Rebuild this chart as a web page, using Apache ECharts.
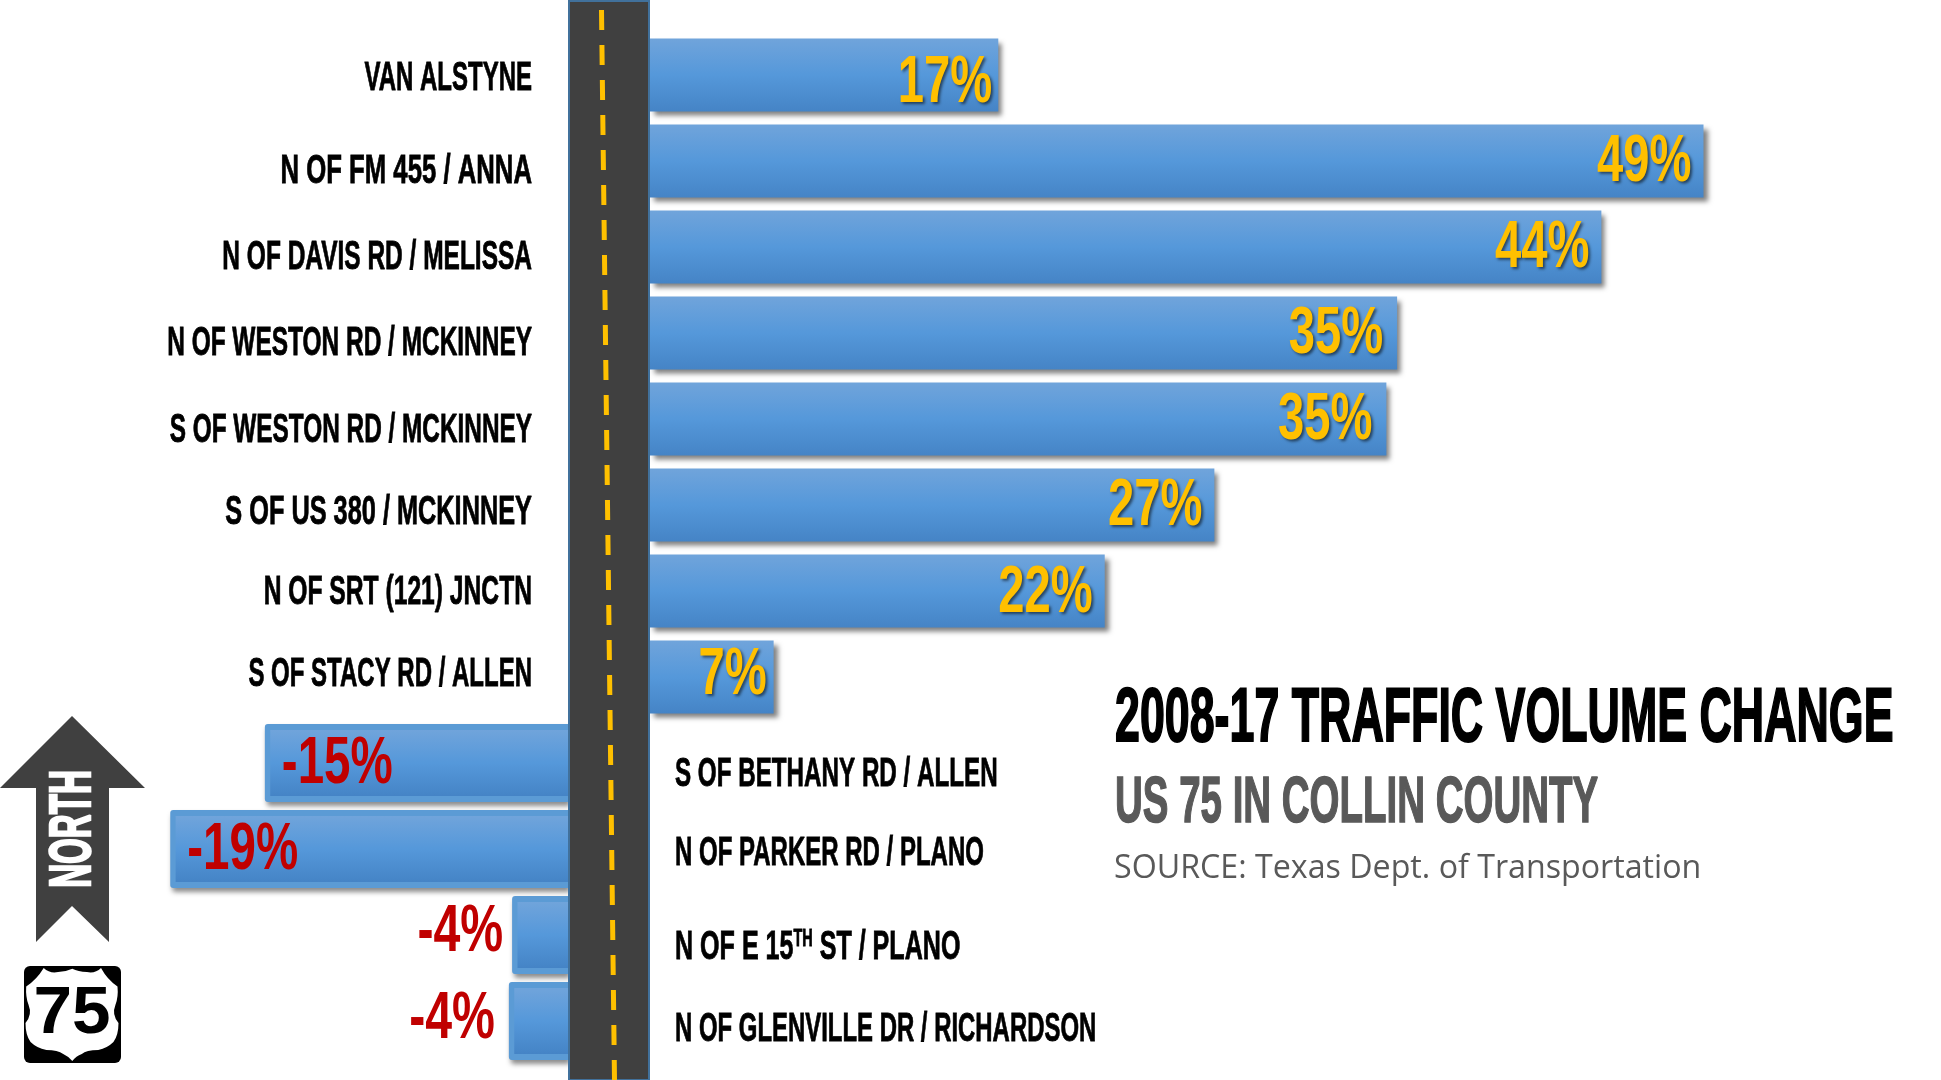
<!DOCTYPE html>
<html>
<head>
<meta charset="utf-8">
<title>US 75 traffic volume change</title>
<script src="https://cdn.jsdelivr.net/npm/echarts@6/dist/echarts.min.js"></script>
<style>
    html, body { margin: 0; padding: 0; background: #fff; }
    #main { width: 1941px; height: 1080px; }
</style>
</head>
<body>
<div id="main"></div>
<script>
// north to south along the road
var categories = [
    'VAN ALSTYNE', 'N OF FM 455 / ANNA', 'N OF DAVIS RD / MELISSA', 'N OF WESTON RD / MCKINNEY',
    'S OF WESTON RD / MCKINNEY', 'S OF US 380 / MCKINNEY', 'N OF SRT (121) JNCTN', 'S OF STACY RD / ALLEN',
    'S OF BETHANY RD / ALLEN', 'N OF PARKER RD / PLANO', 'N OF E 15TH ST / PLANO', 'N OF GLENVILLE DR / RICHARDSON'
];
// what is printed on each bar
var percentLabels = ['17%', '49%', '44%', '35%', '35%', '27%', '22%', '7%', '-15%', '-19%', '-4%', '-4%'];
var barLengths = [16.2, 49, 44.25, 34.75, 34.25, 26.25, 21.15, 5.75, -14.1, -18.5, -2.6, -2.75];
// small hand placed offsets of the texts against their bars
var nameNudge = [4, 11, 11, 11, 12, 8, 2, -2, 12, 5, 13, 9];
var nameSqueeze = [0.6, 0.643, 0.612, 0.611, 0.609, 0.633, 0.616, 0.6, 0.605, 0.6, 0.627, 0.598];
var percentNudge = [9, 2, 2, 2, 2, 2, 3, -1, 2, 2, -2, -1];
var percentInset = [6, 12, 12, 14, 14, 12, 12, 7, 17, 17, 9, 14];

var chart = echarts.init(document.getElementById('main'));

var NARROW = '"Liberation Sans Narrow", "Liberation Sans", sans-serif';
var SHIELD = 'M26.7 986.7 Q37 980 44 968.3 Q50 974 58.3 972.3 Q66 972 72.3 969 Q78 972 86.7 972.3 Q95 974 100.7 968.3 Q107 980 117 986.7 Q118 997 115 1005 Q111 1015 118 1023 Q118 1035 113 1042 Q107 1048 98 1050 Q86 1050 81.7 1054 Q76 1056 72.3 1061 Q68 1056 63.3 1054 Q58 1050 46.7 1050 Q37 1048 31 1042 Q26 1035 26 1023 Q33 1015 29 1005 Q26 997 26.7 986.7 Z';
var barFill = {
    type: 'linear', x: 0, y: 0, x2: 0, y2: 1,
    colorStops: [
        {offset: 0, color: '#70A4DB'},
        {offset: 0.5, color: '#5598DA'},
        {offset: 1, color: '#4584C6'}
    ]
};

var growth = barLengths.map(function (v) { return v > 0 ? v : null; });
var decline = barLengths.map(function (v) { return v < 0 ? v : null; });
var rows = categories.map(function (c, i) { return i; });
var growthRows = rows.filter(function (i) { return barLengths[i] > 0; });
var declineRows = rows.filter(function (i) { return barLengths[i] < 0; });

function condensed(text, x, y, align, size, scaleX, fill, extra) {
    var style = {
        text: text,
        font: 'bold ' + size + 'px ' + NARROW,
        fill: fill,
        textAlign: align,
        verticalAlign: 'middle'
    };
    for (var k in extra) style[k] = extra[k];
    return {type: 'text', x: x, y: y, scaleX: scaleX, style: style};
}

// names sit across the road from their bars
function renderName(params, api) {
    var i = api.value(1), p = api.coord([0, i]);
    var positive = barLengths[i] > 0;
    var x = positive ? p[0] - 118 : p[0] + 107;
    var name = categories[i], extra = {stroke: '#000', lineWidth: 0.8};
    if (name.indexOf('15TH') >= 0) {
        extra.rich = {
            a: {font: 'bold 40px ' + NARROW, fill: '#000', stroke: '#000', lineWidth: 0.8},
            s: {font: 'bold 23px ' + NARROW, fill: '#000', verticalAlign: 'top', padding: [0, 0, 14, 0]}
        };
        name = '{a|N OF E 15}{s|TH}{a| ST / PLANO}';
    }
    return condensed(name, x, p[1] + nameNudge[i], positive ? 'right' : 'left', 40, nameSqueeze[i], '#000', extra);
}

function renderPercent(params, api) {
    var i = api.value(1), p = api.coord([api.value(0), i]);
    var y = p[1] + percentNudge[i];
    if (barLengths[i] > 0) {
        return condensed(percentLabels[i], p[0] - percentInset[i], y, 'right', 66, 0.715, '#FFC000', {
            textShadowColor: 'rgba(0,0,0,0.55)', textShadowBlur: 3, textShadowOffsetX: 2, textShadowOffsetY: 2
        });
    }
    // short bars carry the label outside
    if (barLengths[i] > -5) return condensed(percentLabels[i], p[0] - percentInset[i], y, 'right', 66, 0.73, '#C00000');
    return condensed(percentLabels[i], p[0] + percentInset[i], y, 'left', 66, 0.72, '#C00000');
}

chart.setOption({
    animation: false,
    backgroundColor: '#fff',
    grid: [
        {left: 650, top: 32, width: 1290, height: 1032},
        {left: 138, top: 32, width: 430, height: 1032}
    ],
    xAxis: [
        {gridIndex: 0, type: 'value', min: 0, max: 60, show: false},
        {gridIndex: 1, type: 'value', min: -20, max: 0, show: false}
    ],
    yAxis: [
        {gridIndex: 0, type: 'category', inverse: true, data: categories, show: false},
        {gridIndex: 1, type: 'category', inverse: true, data: categories, show: false},
        // second axis so the inner face of the decline bars keeps its own width
        {gridIndex: 1, type: 'category', inverse: true, data: categories, show: false}
    ],
    series: [
        {
            name: 'Growth', type: 'bar', xAxisIndex: 0, yAxisIndex: 0, barWidth: 73,
            data: growth,
            itemStyle: {color: barFill, shadowColor: 'rgba(0,0,0,0.5)', shadowBlur: 5, shadowOffsetX: 4, shadowOffsetY: 4}
        },
        {
            name: 'Decline', type: 'bar', xAxisIndex: 1, yAxisIndex: 1, barWidth: 78,
            data: decline,
            itemStyle: {
                color: '#5B9BD5', borderRadius: [3, 0, 0, 3],
                shadowColor: 'rgba(0,0,0,0.45)', shadowBlur: 5, shadowOffsetX: 2, shadowOffsetY: 4
            }
        },
        {
            name: 'Decline face', type: 'bar', xAxisIndex: 1, yAxisIndex: 2, barWidth: 66, z: 3,
            data: decline.map(function (v) { return v === null ? null : v + 0.25; }),
            itemStyle: {color: barFill}
        },
        {
            type: 'custom', xAxisIndex: 0, yAxisIndex: 0, silent: true, z: 6, clip: false,
            data: growthRows.map(function (i) { return [barLengths[i], i]; }),
            renderItem: renderPercent
        },
        {
            type: 'custom', xAxisIndex: 1, yAxisIndex: 1, silent: true, z: 6, clip: false,
            data: declineRows.map(function (i) { return [barLengths[i], i]; }),
            renderItem: renderPercent
        },
        {
            type: 'custom', xAxisIndex: 0, yAxisIndex: 0, silent: true, z: 6, clip: false,
            data: growthRows.map(function (i) { return [0, i]; }),
            renderItem: renderName
        },
        {
            type: 'custom', xAxisIndex: 1, yAxisIndex: 1, silent: true, z: 6, clip: false,
            data: declineRows.map(function (i) { return [0, i]; }),
            renderItem: renderName
        },
        {
            // route shield outline, the graphic component has no free path type
            type: 'custom', coordinateSystem: 'none', silent: true, z: 21, clip: false,
            data: [[0]],
            renderItem: function () {
                return {
                    type: 'path',
                    shape: {pathData: SHIELD, layout: 'cover', x: 25.5, y: 968, width: 93, height: 93},
                    style: {fill: '#fff'}
                };
            }
        }
    ],
    graphic: [
        // road
        {type: 'rect', z: 20, shape: {x: 569, y: 1, width: 80, height: 1079}, style: {fill: '#404040', stroke: '#41719C', lineWidth: 2}},
        {type: 'line', z: 21, shape: {x1: 601.5, y1: 10, x2: 614.5, y2: 1080}, style: {stroke: '#FFC000', lineWidth: 5, lineDash: [20, 15]}},
        // north arrow
        {type: 'polygon', z: 20, shape: {points: [[72, 716], [145, 788], [109, 788], [109, 942], [72, 906], [36, 942], [36, 788], [0, 788]]}, style: {fill: '#404040'}},
        {type: 'text', z: 21, x: 74, y: 829, rotation: Math.PI / 2, scaleX: 0.57, style: {text: 'NORTH', font: 'bold 58px ' + NARROW, fill: '#fff', stroke: '#fff', lineWidth: 2.5, textAlign: 'center', verticalAlign: 'middle'}},
        // route shield backing and number
        {type: 'rect', z: 20, shape: {x: 24, y: 966, width: 97, height: 97, r: 6}, style: {fill: '#000'}},
        {type: 'text', z: 22, x: 72, y: 1015, scaleX: 1.05, style: {text: '75', font: 'bold 66px "Liberation Sans", sans-serif', fill: '#000', textAlign: 'center', verticalAlign: 'middle'}},
        // headings
        {type: 'text', z: 20, x: 1115, y: 720, scaleX: 0.589, style: {text: '2008-17 TRAFFIC VOLUME CHANGE', font: 'bold 76px ' + NARROW, fill: '#000', stroke: '#000', lineWidth: 2, textAlign: 'left', verticalAlign: 'middle'}},
        {type: 'text', z: 20, x: 1115, y: 804, scaleX: 0.592, style: {text: 'US 75 IN COLLIN COUNTY', font: 'bold 65px ' + NARROW, fill: '#595959', stroke: '#595959', lineWidth: 1.5, textAlign: 'left', verticalAlign: 'middle'}},
        {type: 'text', z: 20, x: 1114, y: 869, style: {text: 'SOURCE: Texas Dept. of Transportation', font: '32.2px "Open Sans", sans-serif', fill: '#595959', textAlign: 'left', verticalAlign: 'middle'}}
    ]
});
window.onresize = chart.resize;
</script>
</body>
</html>
